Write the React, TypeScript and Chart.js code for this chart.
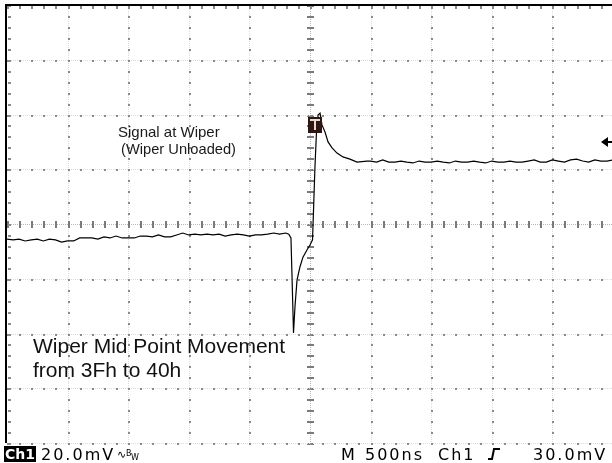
import { useEffect, useRef } from "react";
import { Chart, registerables } from "chart.js";

Chart.register(...registerables);

// Time of each sample (ns), 500 ns/div, trigger at 0
const timeNs = [
  -2500, -2450, -2400, -2350, -2300, -2250, -2200, -2150, -2100, -2050,
  -2000, -1950, -1900, -1850, -1800, -1750, -1700, -1650, -1600, -1550,
  -1500, -1450, -1400, -1350, -1300, -1250, -1200, -1150, -1100, -1050,
  -1000, -950, -900, -850, -800, -750, -700, -650, -600, -550,
  -500, -450, -400, -350, -300, -250, -200, -175,
  -157, -149, -136, -124, -107, -83, -58, -25, 0, 21,
  25, 41, 58, 66, 83, 99, 124, 149, 182, 223, 272, 330, 388, 470,
  500, 550, 600, 650, 700, 750, 800, 850, 900, 950,
  1000, 1050, 1100, 1150, 1200, 1250, 1300, 1350, 1400, 1450,
  1500, 1550, 1600, 1650, 1700, 1750, 1800, 1850, 1900, 1950,
  2000, 2050, 2100, 2150, 2200, 2250, 2300, 2350, 2400, 2450, 2500,
];

// Channel 1 voltage (mV), 20 mV/div
const ch1Mv = [
  -5.5, -5.8, -5.5, -6.2, -5.8, -5.5, -6.2, -5.5, -5.8, -6.6,
  -6.2, -6.2, -5.1, -5.1, -5.1, -5.5, -4.7, -5.1, -4.4, -5.1,
  -5.1, -5.1, -4.4, -4.4, -4.7, -4.0, -4.7, -4.7, -4.0, -3.3,
  -4.0, -3.7, -4.0, -3.7, -4.0, -3.7, -4.4, -4.0, -3.7, -4.0,
  -4.4, -4.0, -4.0, -3.7, -3.3, -3.7, -3.3, -3.7,
  -5.1, -17.9, -39.8, -30.3, -20.5, -15.7, -12.1, -9.5, -7.7, -5.8,
  -0.4, 20.8, 38.0, 39.8, 40.5, 36.2, 33.6, 30.0, 27.8, 25.9, 24.5, 23.7, 22.6, 23.0,
  23.0, 22.6, 23.4, 22.6, 22.6, 23.0, 22.6, 22.3, 23.0, 22.6,
  22.6, 23.0, 22.6, 22.3, 23.0, 22.6, 22.6, 23.0, 22.6, 22.3,
  23.0, 22.6, 22.6, 23.0, 22.6, 22.6, 23.0, 23.4, 22.6, 22.6,
  23.4, 23.0, 22.6, 23.4, 23.7, 23.0, 22.6, 23.4, 23.0, 23.0, 23.4,
];

const timeDivNs = 500;
const voltDivMv = 20;
const triggerLevelMv = 30;
const triggerMarker = { t: 45, v: 36 };

const statusLeft = ["Ch1", "20.0mV"];
const statusRight = ["M", "500ns", "Ch1", "30.0mV"];
const noteSmall = ["Signal at Wiper", "(Wiper Unloaded)"];
const noteLarge = ["Wiper Mid Point Movement", "from 3Fh to 40h"];

const graticule = {
  id: "graticule",
  beforeDraw(chart: any) {
    const { ctx } = chart;
    ctx.save();
    ctx.fillStyle = "#ffffff";
    ctx.fillRect(0, 0, chart.width, chart.height);
    ctx.restore();
  },
  beforeDatasetsDraw(chart: any) {
    const { ctx, chartArea, scales } = chart;
    const { left, top, right, bottom } = chartArea;
    const xs = scales.x;
    const ys = scales.y;
    ctx.save();
    const minorT = timeDivNs / 5;
    const minorV = voltDivMv / 5;
    const tMin = xs.min, tMax = xs.max, vMin = ys.min, vMax = ys.max;

    for (let t = tMin + timeDivNs; t < tMax; t += timeDivNs) {
      const px = Math.round(xs.getPixelForValue(t));
      const center = Math.abs(t) < 1;
      ctx.fillStyle = center ? "#b8b8b8" : "#dcdcdc";
      for (let py = top; py < bottom; py += 2) ctx.fillRect(px, py, 1, 1);
      for (let v = vMin; v <= vMax + 0.01; v += minorV) {
        const py = Math.round(ys.getPixelForValue(v));
        if (center) {
          ctx.fillStyle = "#7a7a7a";
          ctx.fillRect(px - 3, py, 7, 2);
        } else {
          ctx.fillStyle = "#8a8a8a";
          ctx.fillRect(px, py, 2, 2);
        }
      }
    }
    for (let v = vMin; v < vMax - 0.01; v += voltDivMv) {
      const py = Math.round(ys.getPixelForValue(v));
      const center = Math.abs(v) < 0.01;
      ctx.fillStyle = center ? "#b8b8b8" : "#dcdcdc";
      for (let px = left; px < right; px += 2) ctx.fillRect(px, py, 1, 1);
      for (let t = tMin; t <= tMax + 0.01; t += minorT) {
        const px = Math.round(xs.getPixelForValue(t));
        if (center) {
          ctx.fillStyle = "#7a7a7a";
          ctx.fillRect(px, py - 3, 2, 7);
        } else {
          ctx.fillStyle = "#8a8a8a";
          ctx.fillRect(px, py, 2, 2);
        }
      }
    }
    ctx.fillStyle = "#8a8a8a";
    for (let t = tMin; t <= tMax; t += minorT) {
      const px = Math.round(xs.getPixelForValue(t));
      ctx.fillRect(px, top + 1, 2, 3);
    }
    for (let v = vMin; v <= vMax; v += minorV) {
      const py = Math.round(ys.getPixelForValue(v));
      ctx.fillRect(left + 1, py, 3, 2);
    }
    ctx.fillStyle = "#000000";
    ctx.fillRect(left - 2, top - 1, 2, bottom - top + 1);
    ctx.fillRect(left - 2, top - 1, right - left + 2, 2);
    ctx.restore();
  },
  afterDatasetsDraw(chart: any) {
    const { ctx, scales, chartArea } = chart;
    const xs = scales.x;
    const ys = scales.y;
    ctx.save();
    // trigger point marker
    const bx = xs.getPixelForValue(triggerMarker.t);
    const by = ys.getPixelForValue(triggerMarker.v);
    ctx.fillStyle = "#2e1712";
    ctx.fillRect(Math.round(bx - 7), Math.round(by - 8), 14, 16);
    ctx.fillStyle = "#e8d8d0";
    ctx.fillRect(Math.round(bx - 5), Math.round(by - 6), 10, 2);
    ctx.fillRect(Math.round(bx - 1), Math.round(by - 6), 2, 11);
    // trigger level arrow at right edge
    const ay = Math.round(ys.getPixelForValue(triggerLevelMv));
    const ax = chartArea.right - 11;
    ctx.fillStyle = "#000";
    ctx.beginPath();
    ctx.moveTo(ax, ay);
    ctx.lineTo(ax + 7, ay - 5);
    ctx.lineTo(ax + 7, ay + 5);
    ctx.closePath();
    ctx.fill();
    ctx.fillRect(ax + 6, ay - 1, 8, 2);

    // annotations
    ctx.fillStyle = "#1a1a1a";
    ctx.textBaseline = "alphabetic";
    ctx.font = '15px "Liberation Sans", Arial, sans-serif';
    ctx.fillText(noteSmall[0], 118, 137);
    ctx.fillText(noteSmall[1], 121, 154, 115);
    ctx.fillStyle = "#111";
    ctx.font = '21px "Liberation Sans", Arial, sans-serif';
    ctx.fillText(noteLarge[0], 33, 353);
    ctx.fillText(noteLarge[1], 33, 377);
    ctx.restore();
  },
  afterDraw(chart: any) {
    const { ctx } = chart;
    ctx.save();
    const base = 460;
    ctx.textBaseline = "alphabetic";
    // inverted Ch1 badge
    ctx.fillStyle = "#000";
    ctx.fillRect(4, 446, 32, 16);
    ctx.fillStyle = "#fff";
    ctx.font = 'bold 14px "DejaVu Sans", sans-serif';
    (ctx as any).letterSpacing = "0px";
    ctx.fillText(statusLeft[0], 5, base - 1);
    ctx.fillStyle = "#000";
    ctx.font = '16px "DejaVu Sans", sans-serif';
    (ctx as any).letterSpacing = "2px";
    ctx.fillText(statusLeft[1], 41, base);
    // bandwidth-limit symbol
    (ctx as any).letterSpacing = "0px";
    ctx.font = '11px "DejaVu Sans", sans-serif';
    ctx.fillText("\u223F", 117, base - 2);
    ctx.font = '8px "DejaVu Sans", sans-serif';
    ctx.fillText("B", 126, base - 4);
    ctx.fillText("W", 131, base);
    ctx.font = '16px "DejaVu Sans", sans-serif';
    (ctx as any).letterSpacing = "2px";
    ctx.fillText(statusRight[0], 341, base);
    ctx.fillText(statusRight[1], 365, base);
    ctx.fillText(statusRight[2], 438, base);
    ctx.fillText(statusRight[3], 533, base);
    // rising slope symbol
    ctx.strokeStyle = "#000";
    ctx.lineWidth = 2;
    ctx.beginPath();
    ctx.moveTo(488, base - 1);
    ctx.lineTo(492, base - 1);
    ctx.lineTo(494, base - 11);
    ctx.lineTo(500, base - 11);
    ctx.stroke();
    ctx.restore();
  },
};

export default function App() {
  const ref = useRef<HTMLCanvasElement | null>(null);
  useEffect(() => {
    if (!ref.current) return;
    const points = timeNs.map((t, i) => ({ x: t, y: ch1Mv[i] }));
    const chart = new Chart(ref.current, {
      type: "line",
      data: {
        datasets: [
          {
            data: points,
            borderColor: "#000000",
            borderWidth: 1.2,
            pointRadius: 0,
            tension: 0,
            fill: false,
          },
        ],
      },
      options: {
        animation: false,
        responsive: false,
        maintainAspectRatio: false,
        devicePixelRatio: 1,
        layout: { padding: { left: 7, top: 5, right: 0, bottom: 20 } },
        plugins: { legend: { display: false }, tooltip: { enabled: false } },
        scales: {
          x: { type: "linear", min: -2500, max: 2492, display: false },
          y: { type: "linear", min: -80, max: 80, display: false },
        },
      },
      plugins: [graticule],
    });
    return () => chart.destroy();
  }, []);
  return (
    <div style={{ position: "fixed", left: 0, top: 0, width: 612, height: 463 }}>
      <canvas ref={ref} width={612} height={463} />
    </div>
  );
}
